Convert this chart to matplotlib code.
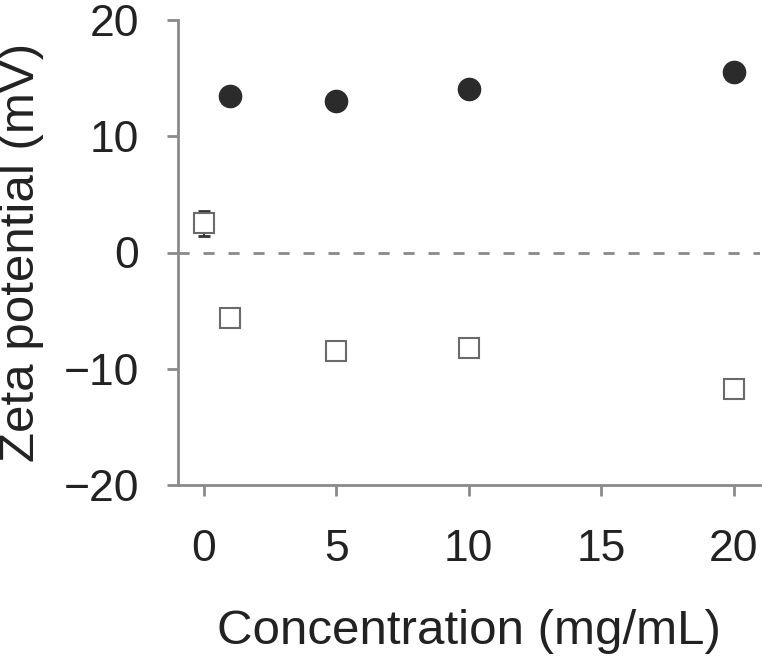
import matplotlib
matplotlib.use("Agg")
import matplotlib.pyplot as plt

plt.rcParams['font.family'] = ['Liberation Sans', 'DejaVu Sans']

# Data
conc_filled = [1, 5, 10, 20]
zeta_filled = [13.5, 13.0, 14.1, 15.5]
conc_open = [0, 1, 5, 10, 20]
zeta_open = [2.5, -5.6, -8.5, -8.2, -11.7]
err_open = [1.05, 0.0, 0.0, 0.0, 0.0]

xticks = [0, 5, 10, 15, 20]
yticks = [-20, -10, 0, 10, 20]

fig = plt.figure(figsize=(7.62, 6.6), dpi=100)
ax = fig.add_axes([178/762, 1 - 485/660, (760 - 178)/762, (485 - 20)/660])

gray = '#8a8a8a'
ax.axhline(0, color=gray, lw=2, ls=(0, (4, 5)), zorder=1)

ax.errorbar(conc_open, zeta_open, yerr=err_open, fmt='none', ecolor='#333333',
            elinewidth=1.5, capsize=4, capthick=2, zorder=2)
ax.plot(conc_open, zeta_open, ls='none', marker='s', ms=14.5, mfc='white',
        mec='#6a6a6a', mew=1.5, zorder=3)
ax.plot(conc_filled, zeta_filled, ls='none', marker='o', ms=16, mfc='#2b2b2b',
        mec='#2b2b2b', zorder=3)

ax.set_xlim(-0.97, 21)
ax.set_ylim(-20, 20)
ax.set_xticks(xticks)
ax.set_yticks(yticks)
ax.set_yticklabels(['\u221220', '\u221210', '0', '10', '20'])

for s in ['top', 'right']:
    ax.spines[s].set_visible(False)
for s in ['left', 'bottom']:
    ax.spines[s].set_color(gray)
    ax.spines[s].set_linewidth(2)

ax.tick_params(axis='both', direction='out', length=8, width=2, color=gray,
               labelsize=32, labelcolor='#222222')
ax.tick_params(axis='x', pad=24)
ax.tick_params(axis='y', pad=20)

ax.set_xlabel('Concentration (mg/mL)', fontsize=35.5, color='#222222', labelpad=28)
ax.set_ylabel('Zeta potential (mV)', fontsize=35.5, color='#222222', labelpad=14)

fig.savefig('out.png', dpi=100)
